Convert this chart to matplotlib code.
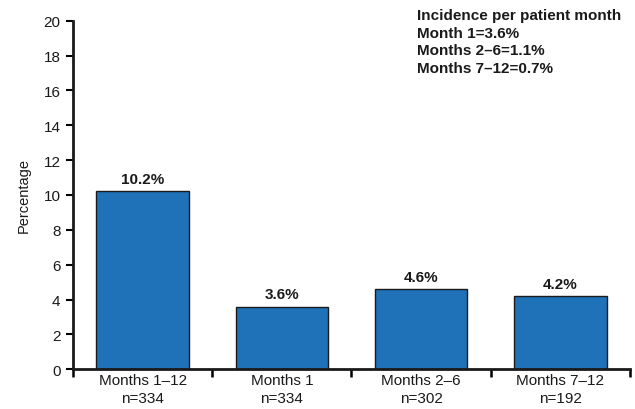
import matplotlib
matplotlib.use("Agg")
import matplotlib.pyplot as plt

categories = ["Months 1\u201312\nn=334", "Months 1\nn=334", "Months 2\u20136\nn=302", "Months 7\u201312\nn=192"]
values = [10.2, 3.6, 4.6, 4.2]
value_labels = ["10.2%", "3.6%", "4.6%", "4.2%"]
yticks = list(range(0, 21, 2))
note_lines = ["Incidence per patient month", "Month 1=3.6%", "Months 2\u20136=1.1%", "Months 7\u201312=0.7%"]

plt.rcParams['font.family'] = ['Liberation Sans', 'DejaVu Sans']

fig = plt.figure(figsize=(6.35, 4.10), dpi=100)
ax = fig.add_axes([0.115, 0.097, 0.877, 0.850])

x = list(range(len(categories)))
ax.bar(x, values, width=0.665, color="#1f72b8", edgecolor="#1a1a1a", linewidth=1.0, zorder=2)
for xi, v, lab in zip(x, values, value_labels):
    ax.text(xi, v + 0.3, lab, ha="center", va="bottom", fontsize=11, fontweight="bold", color="#1a1a1a")

ax.set_xlim(-0.5, 3.5)
ax.set_ylim(0, 20)
ax.set_yticks(yticks)
ax.set_yticklabels([str(t) for t in yticks], fontsize=11, color="#1a1a1a")
ax.set_xticks([i - 0.5 for i in range(len(categories) + 1)])
ax.set_xticklabels([])
ax.set_xticks(x, minor=True)
ax.set_xticklabels(categories, minor=True, fontsize=11, color="#1a1a1a", linespacing=1.3)
ax.tick_params(axis="x", which="minor", length=0, pad=3)
ax.tick_params(axis="x", which="major", length=6, width=1.8, direction="out")
ax.tick_params(axis="y", length=5, width=1.5, direction="out", pad=4)

for s in ["top", "right"]:
    ax.spines[s].set_visible(False)
for s in ["left", "bottom"]:
    ax.spines[s].set_linewidth(2.0)
    ax.spines[s].set_color("#1a1a1a")

ax.set_ylabel("Percentage", fontsize=10.5, color="#1a1a1a", labelpad=9)

fig.text(417/635, 1 - 9/410, "\n".join(note_lines), ha="left", va="top", fontsize=11,
         fontweight="bold", color="#1a1a1a", linespacing=1.32)

fig.savefig("out.png", dpi=100)
